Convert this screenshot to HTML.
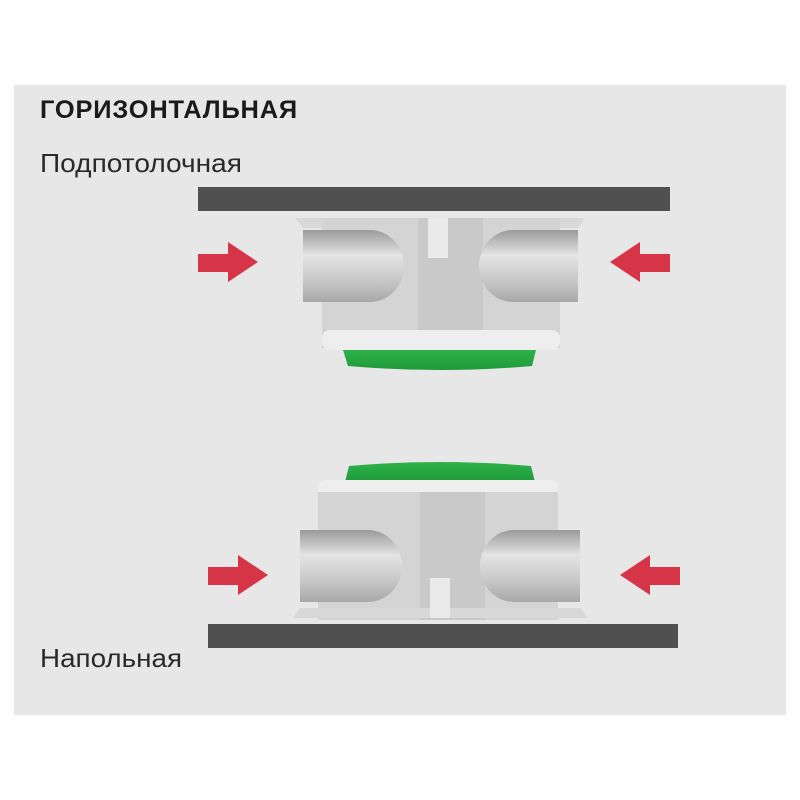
<!DOCTYPE html>
<html><head><meta charset="utf-8"><style>
body{margin:0;background:#fff;width:800px;height:800px;overflow:hidden}
</style></head><body>
<svg width="800" height="800" xmlns="http://www.w3.org/2000/svg" style="position:absolute;left:0;top:0">
<defs>
<linearGradient id="pipe" x1="0" y1="0" x2="0" y2="1">
<stop offset="0" stop-color="#9a9a9a"/><stop offset="0.35" stop-color="#e4e4e4"/><stop offset="0.7" stop-color="#c8c8c8"/><stop offset="1" stop-color="#a8a8a8"/></linearGradient>
<linearGradient id="grn" x1="0" y1="0" x2="0" y2="1"><stop offset="0" stop-color="#2fb24a"/><stop offset="1" stop-color="#1f9a3a"/></linearGradient>
</defs>
<rect x="14" y="85" width="772" height="630" fill="#e7e7e7"/>
<text x="40" y="118" font-family="Liberation Sans, sans-serif" font-weight="bold" font-size="25" letter-spacing="0.8" textLength="258" lengthAdjust="spacingAndGlyphs" fill="#1a1a1a">ГОРИЗОНТАЛЬНАЯ</text>
<text x="40" y="172" font-family="Liberation Sans, sans-serif" font-size="26" textLength="202" lengthAdjust="spacingAndGlyphs" fill="#2a2a2a">Подпотолочная</text>
<text x="40" y="667" font-family="Liberation Sans, sans-serif" font-size="26" textLength="142" lengthAdjust="spacingAndGlyphs" fill="#2a2a2a">Напольная</text>
<rect x="198" y="187" width="472" height="24" fill="#505050"/>
<rect x="208" y="624" width="470" height="24" fill="#505050"/>
<g>
<path d="M295 218 H585 L578 228 H303 Z" fill="#d8d8d8"/>
<rect x="322" y="218" width="238" height="130" fill="#d4d4d4"/>
<rect x="418" y="218" width="65" height="130" fill="#c9c9c9"/>
<rect x="322" y="330" width="238" height="20" rx="8" fill="#eeeeee"/>
<path d="M343 350 H536 L532 366 Q440 374 348 366 Z" fill="url(#grn)"/>
<path d="M303 230 H370 A34 36 0 0 1 370 302 H303 Z" fill="url(#pipe)"/>
<path d="M578 230 H513 A34 36 0 0 0 513 302 H578 Z" fill="url(#pipe)"/>
<rect x="428" y="218" width="20" height="40" fill="#eaeaea"/>
</g>
<polygon points="198,254 228,254 228,242 258,262 228,282 228,272 198,272" fill="#d63447"/>
<polygon points="670,254 640,254 640,242 610,262 640,282 640,272 670,272" fill="#d63447"/>
<g>
<path d="M345 482 H535 L531 466 Q440 458 349 466 Z" fill="url(#grn)"/>
<rect x="318" y="480" width="240" height="20" rx="8" fill="#eeeeee"/>
<rect x="318" y="492" width="240" height="128" fill="#d4d4d4"/>
<rect x="420" y="492" width="65" height="128" fill="#c9c9c9"/>
<path d="M293 618 H588 L581 608 H300 Z" fill="#d8d8d8"/>
<path d="M300 530 H368 A34 36 0 0 1 368 602 H300 Z" fill="url(#pipe)"/>
<path d="M580 530 H514 A34 36 0 0 0 514 602 H580 Z" fill="url(#pipe)"/>
<rect x="430" y="578" width="20" height="40" fill="#eaeaea"/>
</g>
<polygon points="208,567 238,567 238,555 268,575 238,595 238,585 208,585" fill="#d63447"/>
<polygon points="680,567 650,567 650,555 620,575 650,595 650,585 680,585" fill="#d63447"/>
</svg>
</body></html>
